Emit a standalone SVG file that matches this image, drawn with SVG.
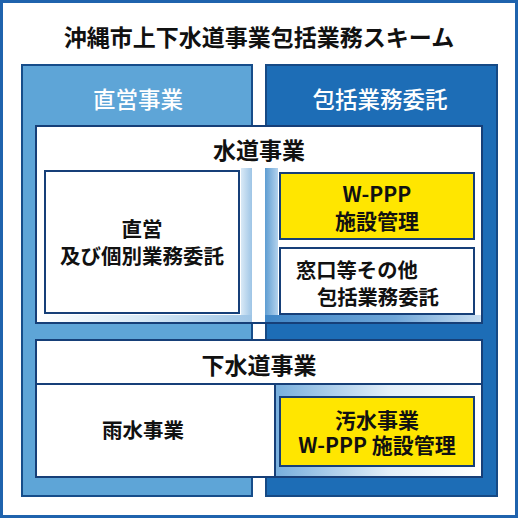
<svg xmlns="http://www.w3.org/2000/svg" width="518" height="518" viewBox="0 0 518 518">
  <defs>
    <linearGradient id="gLeftV" x1="0" y1="0" x2="1" y2="0">
      <stop offset="0" stop-color="#d9e9f6"/>
      <stop offset="1" stop-color="#9ec5e6"/>
    </linearGradient>
    <linearGradient id="gRightV" x1="0" y1="0" x2="1" y2="0">
      <stop offset="0" stop-color="#5e9dd2"/>
      <stop offset="1" stop-color="#b3d2ed"/>
    </linearGradient>
    <linearGradient id="gLeftH" x1="0" y1="0" x2="1" y2="0">
      <stop offset="0" stop-color="#ffffff"/>
      <stop offset="0.5" stop-color="#d6e8f5"/>
      <stop offset="1" stop-color="#9ec5e6"/>
    </linearGradient>
    <linearGradient id="gRightH" x1="0" y1="0" x2="1" y2="0">
      <stop offset="0" stop-color="#3f86c6"/>
      <stop offset="0.6" stop-color="#6fa6d8"/>
      <stop offset="1" stop-color="#c9def1"/>
    </linearGradient>
    <linearGradient id="gSewer" x1="0" y1="0" x2="1" y2="0">
      <stop offset="0" stop-color="#78afdd"/>
      <stop offset="0.55" stop-color="#e2eef8"/>
      <stop offset="1" stop-color="#ffffff"/>
    </linearGradient>
  </defs>
  <style>
    .t{font-family:"Noto Sans CJK JP","Noto Sans",sans-serif;fill:#111;font-weight:700;text-anchor:middle;dominant-baseline:central}
    .h{font-family:"Noto Sans CJK JP","Noto Sans",sans-serif;fill:#ffffff;font-weight:500;text-anchor:middle;dominant-baseline:central;font-size:22.5px}
    .box{fill:#ffffff;stroke:#163f78;stroke-width:2}
    .yel{fill:#ffe600;stroke:#163f78;stroke-width:2}
  </style>

  <rect x="1.5" y="1.5" width="515" height="515" fill="#ffffff" stroke="#1f63ad" stroke-width="3"/>

  <g id="title">
    <text class="t" x="259" y="36" font-size="23">沖縄市上下水道事業包括業務スキーム</text>
  </g>

  <g id="col-direct">
    <rect x="22" y="65" width="230" height="431" fill="#5ea5d7" stroke="#164d8a" stroke-width="2"/>
    <text class="h" x="138" y="98">直営事業</text>
  </g>
  <g id="col-contract">
    <rect x="266" y="65" width="231" height="431" fill="#1d6db6" stroke="#164a85" stroke-width="2"/>
    <text class="h" x="380" y="98">包括業務委託</text>
  </g>

  <g id="water">
    <rect class="box" x="36" y="126" width="446" height="197"/>
    <rect x="241" y="168" width="11" height="154" fill="url(#gLeftV)"/>
    <rect x="37" y="315" width="215" height="7" fill="url(#gLeftH)"/>
    <rect x="265" y="168" width="13" height="154" fill="url(#gRightV)"/>
    <rect x="265" y="315" width="216" height="7" fill="url(#gRightH)"/>
    <text class="t" x="259" y="149" font-size="23">水道事業</text>
  </g>

  <g id="water-direct">
    <rect class="box" x="45" y="171" width="194" height="142"/>
    <text class="t" x="142" y="228" font-size="20.5">直営</text>
    <text class="t" x="142" y="255" font-size="20.5">及び個別業務委託</text>
  </g>

  <g id="water-wppp">
    <rect class="yel" x="280" y="173" width="194" height="66"/>
    <text class="t" x="377" y="193" font-size="21">W-PPP</text>
    <text class="t" x="377" y="220" font-size="21">施設管理</text>
  </g>

  <g id="water-window">
    <rect class="box" x="280" y="248" width="194" height="66"/>
    <text class="t" x="296" y="269" font-size="20.3" text-anchor="start" style="text-anchor:start">窓口等その他</text>
    <text class="t" x="317" y="296" font-size="20.3" style="text-anchor:start">包括業務委託</text>
  </g>

  <g id="sewer">
    <rect class="box" x="36" y="340" width="446" height="137"/>
    <line x1="36" y1="384" x2="482" y2="384" stroke="#163f78" stroke-width="2"/>
    <rect x="276" y="385" width="205" height="91" fill="url(#gSewer)"/>
    <line x1="275" y1="384" x2="275" y2="477" stroke="#163f78" stroke-width="2"/>
    <text class="t" x="259" y="364" font-size="23">下水道事業</text>
  </g>

  <g id="sewer-rain">
    <text class="t" x="143" y="429" font-size="20.5">雨水事業</text>
  </g>

  <g id="sewer-wppp">
    <rect class="yel" x="280" y="397" width="194" height="69"/>
    <text class="t" x="377" y="419" font-size="21">汚水事業</text>
    <text class="t" x="377" y="444" font-size="21">W-PPP 施設管理</text>
  </g>
</svg>
